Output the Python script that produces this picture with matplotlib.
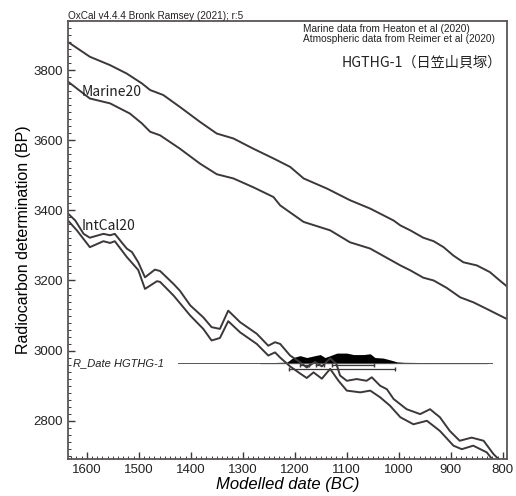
import numpy as np
import matplotlib
matplotlib.use('Agg')
import matplotlib.pyplot as plt
from matplotlib.ticker import MultipleLocator

plt.rcParams['font.family'] = ['Liberation Sans', 'DejaVu Sans']
label_font = ['Noto Sans CJK JP', 'DejaVu Sans']
ink = '#3d3838'

# Marine20 curve, upper / lower edge (year BC, BP)
marine_hi_year = [1636, 1594, 1555, 1523, 1494, 1478, 1453, 1421, 1382, 1350, 1318, 1280,
                  1241, 1209, 1183, 1138, 1094, 1055, 1010, 997, 978, 953, 933, 914, 895,
                  876, 850, 825, 806, 792]
marine_hi_bp = [3880, 3838, 3814, 3790, 3762, 3743, 3729, 3695, 3652, 3619, 3605, 3576,
                3548, 3524, 3491, 3462, 3429, 3405, 3371, 3357, 3343, 3322, 3312, 3295, 3271,
                3252, 3243, 3224, 3200, 3183]
marine_lo_year = [1636, 1594, 1555, 1517, 1494, 1478, 1459, 1421, 1382, 1350, 1318, 1280,
                  1241, 1228, 1183, 1132, 1094, 1055, 1020, 997, 978, 953, 933, 908, 882,
                  857, 831, 792]
marine_lo_bp = [3767, 3719, 3705, 3676, 3648, 3624, 3614, 3576, 3533, 3503, 3491, 3466,
                3438, 3414, 3367, 3343, 3309, 3291, 3262, 3243, 3229, 3208, 3200, 3179, 3152,
                3138, 3119, 3090]

# IntCal20 curve, upper / lower edge
intcal_hi_year = [1636, 1622, 1606, 1594, 1568, 1555, 1546, 1533, 1523, 1513, 1501, 1488,
                  1469, 1459, 1433, 1421, 1401, 1376, 1360, 1344, 1328, 1305, 1273, 1251,
                  1238, 1228, 1209, 1190, 1177, 1161, 1148, 1132, 1120, 1113, 1100, 1081,
                  1062, 1052, 1036, 1023, 1010, 985, 959, 940, 921, 902, 883, 860, 837,
                  818, 805]
intcal_hi_bp = [3391, 3371, 3333, 3322, 3333, 3329, 3333, 3309, 3291, 3281, 3252, 3209,
                3231, 3227, 3190, 3171, 3129, 3095, 3067, 3062, 3114, 3081, 3048, 3014,
                3024, 3019, 2986, 2967, 2952, 2968, 2955, 2978, 2962, 2929, 2914, 2919,
                2914, 2924, 2900, 2890, 2862, 2833, 2819, 2833, 2810, 2771, 2743, 2752, 2743,
                2705, 2686]
intcal_lo_year = [1636, 1619, 1594, 1568, 1555, 1546, 1523, 1501, 1488, 1465, 1459, 1433,
                  1401, 1376, 1360, 1344, 1328, 1305, 1273, 1251, 1238, 1228, 1209, 1190,
                  1177, 1164, 1148, 1132, 1116, 1100, 1074, 1055, 1036, 1017, 997, 972,
                  946, 921, 895, 879, 857, 831, 818]
intcal_lo_bp = [3371, 3343, 3295, 3312, 3307, 3312, 3267, 3230, 3176, 3198, 3196, 3157,
                3100, 3062, 3029, 3036, 3084, 3052, 3019, 2986, 2995, 2980, 2955, 2935,
                2922, 2938, 2920, 2948, 2914, 2886, 2881, 2886, 2867, 2843, 2810, 2790,
                2800, 2771, 2729, 2719, 2729, 2710, 2686]

# R_Date HGTHG-1 likelihood (relative)
rdate_year = [1267, 1240, 1215, 1203, 1190, 1177, 1161, 1151, 1142, 1132, 1119, 1100,
              1087, 1068, 1055, 1046, 1030, 1014, 1004, 990, 960, 920, 880, 830]
rdate_prob = [0.0, 0.04, 0.08, 0.55, 0.74, 0.55, 0.74, 0.85, 0.55, 0.74, 1.0, 1.0,
              0.85, 0.85, 0.93, 0.55, 0.49, 0.27, 0.11, 0.06, 0.04, 0.03, 0.02, 0.0]
rdate_bp = 2965
range68 = [(1190, 1172), (1160, 1143), (1129, 1047)]
range95 = [(1212, 1007)]

fig = plt.figure(figsize=(5.16, 4.96), dpi=100)
ax = fig.add_axes([0.1318, 0.0746, 0.8508, 0.8831])

for xs, ys in [(marine_hi_year, marine_hi_bp), (marine_lo_year, marine_lo_bp),
               (intcal_hi_year, intcal_hi_bp), (intcal_lo_year, intcal_lo_bp)]:
    ax.plot(xs, ys, color=ink, lw=1.4, solid_joinstyle='round')

# distribution
ax.plot([1424, 820], [rdate_bp, rdate_bp], color='#555555', lw=0.7)
p = np.array(rdate_prob)
ax.fill_between(rdate_year, rdate_bp - 2, rdate_bp + p * 28, color='black', lw=0)
for lo, hi in range68:
    ax.plot([lo, hi], [rdate_bp - 7, rdate_bp - 7], color=ink, lw=0.9,
            marker='|', markersize=3)
for lo, hi in range95:
    ax.plot([lo, hi], [rdate_bp - 17, rdate_bp - 17], color=ink, lw=0.9,
            marker='|', markersize=3)
ax.text(1626, rdate_bp, 'R_Date HGTHG-1', style='italic', fontsize=8,
        va='center', ha='left', color='#222222')

ax.text(1610, 3737, 'Marine20', fontsize=10, family=label_font, va='center', color='#222222')
ax.text(1609, 3354, 'IntCal20', fontsize=10, family=label_font, va='center', color='#222222')

ax.set_xlim(1636, 792)
ax.set_ylim(2691, 3940)
ax.xaxis.set_major_locator(MultipleLocator(100))
ax.xaxis.set_minor_locator(MultipleLocator(10))
ax.yaxis.set_major_locator(MultipleLocator(200))
ax.yaxis.set_minor_locator(MultipleLocator(20))
ax.tick_params(which='both', direction='in', colors=ink, labelcolor='#222222',
               top=False, right=False)
ax.tick_params(which='major', length=5, width=1, labelsize=9.5)
ax.tick_params(which='minor', length=2.5, width=0.7)
for s in ax.spines.values():
    s.set_color('#5a5555')
    s.set_linewidth(1.3)

ax.set_xlabel('Modelled date (BC)', fontsize=12, style='italic', labelpad=1)
ax.set_ylabel('Radiocarbon determination (BP)', fontsize=11.5, labelpad=2)

ax.text(0, 1.0, 'OxCal v4.4.4 Bronk Ramsey (2021); r:5', transform=ax.transAxes,
        fontsize=7.2, va='bottom', ha='left', color='#222222')
ax.text(0.535, 0.992, 'Marine data from Heaton et al (2020)\nAtmospheric data from Reimer et al (2020)',
        transform=ax.transAxes, fontsize=7.3, va='top', ha='left', linespacing=1.0,
        color='#222222')
ax.text(0.989, 0.906, 'HGTHG-1（日笠山貝塚）', transform=ax.transAxes, fontsize=10.2,
        family=label_font, va='center', ha='right', color='#222222')

fig.savefig('out.png', dpi=100)
